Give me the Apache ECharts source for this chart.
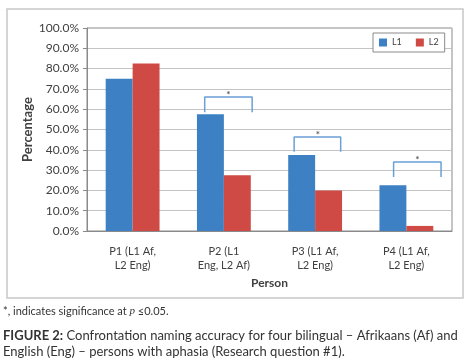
<!DOCTYPE html>
<html>
<head>
<meta charset="utf-8">
<script src="https://cdn.jsdelivr.net/npm/echarts@6/dist/echarts.min.js"></script>
<style>
  body { margin: 0; background: #fff; }
  #chart { width: 468px; height: 362px; }
</style>
</head>
<body>
<div id="chart"></div>
<script>
// data
const persons = ['P1 (L1 Af,\nL2 Eng)', 'P2 (L1\nEng, L2 Af)', 'P3 (L1 Af,\nL2 Eng)', 'P4 (L1 Af,\nL2 Eng)'];
const l1Values = [75, 57.5, 37.5, 22.5];
const l2Values = [82.5, 27.5, 20, 2.5];
const yTicks = [0, 10, 20, 30, 40, 50, 60, 70, 80, 90, 100];

// significance brackets: [left x, right x, top y, bottom y] on a category-index scale
const brackets = [
  [0.79, 1.31, 66, 58.5],
  [1.77, 2.28, 46.3, 39],
  [2.86, 3.38, 34, 26.6]
];
const stars = [[1.05, 66], [2.03, 46.3], [3.12, 34]];

const font = 'Lato, "Liberation Sans", sans-serif';
const textColor = '#404040';

let chartDom = document.getElementById('chart');
let myChart = echarts.init(chartDom);

const bracketSeries = brackets.map(b => ({
  type: 'line',
  xAxisIndex: 1,
  symbol: 'none',
  silent: true,
  lineStyle: { color: '#6b9fd6', width: 1.5 },
  data: [[b[0], b[3]], [b[0], b[2]], [b[1], b[2]], [b[1], b[3]]]
}));

let option = {
  backgroundColor: '#fff',
  animation: false,
  textStyle: { fontFamily: font },
  grid: {
    left: 87, top: 28, right: 16, bottom: 131,
    show: true, borderColor: '#8a8a8a', borderWidth: 1
  },
  legend: {
    data: ['L1', 'L2'],
    left: 373, top: 33,
    itemWidth: 8, itemHeight: 8, itemGap: 14,
    padding: [5, 6],
    borderColor: '#8a8a8a', borderWidth: 1,
    backgroundColor: '#fff',
    icon: 'rect',
    textStyle: { fontSize: 9, color: textColor, fontFamily: font }
  },
  xAxis: [{
    type: 'category',
    data: persons,
    name: 'Person',
    nameLocation: 'middle',
    nameGap: 46,
    nameMoveOverlap: false,
    nameTextStyle: { fontSize: 12, fontWeight: 'bold', color: textColor, fontFamily: font },
    axisLine: { lineStyle: { color: '#8a8a8a' } },
    axisTick: { lineStyle: { color: '#8a8a8a' }, length: 4 },
    axisLabel: { interval: 0, fontSize: 11, color: textColor, lineHeight: 14, margin: 13, fontFamily: font }
  }, {
    type: 'value',
    min: -0.5, max: 3.5,
    show: false
  }],
  yAxis: {
    type: 'value',
    min: yTicks[0], max: yTicks[yTicks.length - 1], interval: 10,
    name: 'Percentage',
    nameLocation: 'middle',
    nameGap: 53,
    nameMoveOverlap: false,
    nameTextStyle: { fontSize: 13, fontWeight: 'bold', color: textColor, fontFamily: font },
    axisLine: { show: true, onZero: false, lineStyle: { color: '#8a8a8a' } },
    axisTick: { show: true, length: 4, lineStyle: { color: '#8a8a8a' } },
    axisLabel: { fontSize: 12, color: textColor, margin: 8, fontFamily: font,
      formatter: v => v.toFixed(1) + '%' },
    splitLine: { lineStyle: { color: '#c4c4c4' } }
  },
  series: [{
    name: 'L1',
    type: 'bar',
    barGap: 0,
    barCategoryGap: '41%',
    itemStyle: { color: '#3d80c3' },
    data: l1Values
  }, {
    name: 'L2',
    type: 'bar',
    itemStyle: { color: '#cf4a44' },
    data: l2Values
  }, ...bracketSeries, {
    type: 'scatter',
    xAxisIndex: 1,
    symbolSize: 0,
    silent: true,
    label: { show: true, position: 'top', distance: -3, formatter: '*', fontSize: 10, fontWeight: 'bold', color: '#333' },
    data: stars
  }],
  graphic: [{
    type: 'rect',
    silent: true,
    shape: { x: 7, y: 9, width: 456, height: 289 },
    style: { fill: null, stroke: '#c8c8c8', lineWidth: 1.5 },
    z: -1
  }, {
    type: 'text',
    left: 3, top: 306,
    style: {
      text: '*, indicates significance at {i|p} \u22640.05.',
      fontSize: 11, fill: '#333', fontFamily: font,
      rich: { i: { fontStyle: 'italic', fontSize: 11, fill: '#333', fontFamily: 'serif' } }
    }
  }, {
    type: 'text',
    left: 3, top: 328,
    style: {
      text: '{b|FIGURE 2:} Confrontation naming accuracy for four bilingual \u2013 Afrikaans (Af) and\nEnglish (Eng) \u2013 persons with aphasia (Research question #1).',
      fontSize: 13, fill: '#333', lineHeight: 16, fontFamily: font,
      rich: { b: { fontWeight: 'bold', fontSize: 13, fill: '#333', fontFamily: font } }
    }
  }]
};

myChart.setOption(option);
</script>
</body>
</html>
